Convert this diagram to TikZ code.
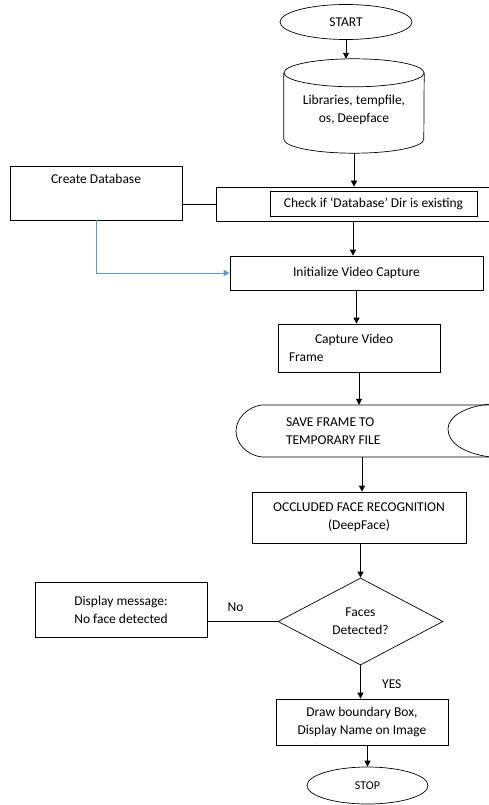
\documentclass[tikz,border=0pt]{standalone}
\usepackage{fontspec}
\setmainfont{Carlito}
\usepackage{tikz}
\usetikzlibrary{shapes.geometric,arrows.meta}
\definecolor{linkblue}{RGB}{91,155,213}

\begin{document}
\begin{tikzpicture}[x=1pt,y=1pt,yscale=-1,xscale=1,
  every node/.style={font=\fontsize{13.5}{18}\selectfont},
  procbox/.style={draw,rectangle,inner sep=0pt,line width=0.7pt},
  termbox/.style={draw,ellipse,inner sep=0pt,line width=0.7pt},
  flow/.style={line width=0.7pt,-{Triangle[length=6pt,width=6pt]}}]
\useasboundingbox (0,0) rectangle (488,805);

%Terminal: start
\node [termbox,minimum width=132,minimum height=35] (start) at (346,22) {START};
%Cylinder: libraries (outline drawn below)
\node [rectangle,inner sep=0pt,minimum width=140,minimum height=94,align=center] (libs) at (354,106) {\\[0pt]Libraries, tempfile,\\os, Deepface};
\draw [line width=0.7pt] ([yshift=14pt]libs.north) ellipse [x radius=70,y radius=14];
\draw [line width=0.7pt] ([yshift=14pt]libs.north west) -- ([yshift=-14pt]libs.south west) arc [start angle=180,end angle=0,x radius=70,y radius=14] -- ([yshift=14pt]libs.north east);
%Boxes: database check
\node [procbox,minimum width=274,minimum height=34] (check) at (353,204) {};
\node [procbox,minimum width=207,minimum height=25] (checkin) at (373.5,203.5) {Check if ‘Database’ Dir is existing};
\node [procbox,minimum width=172,minimum height=54,label={[anchor=north,yshift=-5pt]north:Create Database}] (createdb) at (96,193) {};
%Box: init capture
\node [procbox,minimum width=253,minimum height=34] (init) at (356.5,273) {Initialize Video Capture};
%Box: capture frame
\node [procbox,minimum width=162,minimum height=48,text width=140,align=flush left] (capture) at (359,348) {\hspace*{26pt}Capture Video\\Frame};
%Stored data: save frame
\node [rectangle,inner sep=0pt,minimum width=252,minimum height=52,text width=152,align=flush left] (save) at (362,431) {SAVE FRAME TO\\TEMPORARY FILE};
\draw [line width=0.7pt] (500,405) -- (262,405) .. controls (246,407) and (236,420) .. (236,431) .. controls (236,443) and (246,455) .. (262,457) -- (500,457);
\draw [line width=0.7pt] (490,404) .. controls (462,407) and (448,418) .. (448,429) .. controls (448,442) and (462,453) .. (490,457);
%Box: recognition
\node [procbox,minimum width=214,minimum height=51,align=center] (recog) at (359,517.5) {OCCLUDED FACE RECOGNITION\\(DeepFace)};
%Decision: faces
\node [draw,diamond,inner sep=0pt,aspect=1.9,minimum width=165,minimum height=87,line width=0.7pt,align=center] (faces) at (360.5,621.5) {Faces\\Detected?};
\node [procbox,minimum width=172,minimum height=55,align=center] (nomsg) at (121,609.5) {Display message:\\No face detected};
\node [procbox,minimum width=172,minimum height=46,align=center] (drawbox) at (362,722) {Draw boundary Box,\\Display Name on Image};
%Terminal: stop
\node [termbox,minimum width=121,minimum height=37,font=\fontsize{12}{14}\selectfont] (stop) at (367.5,785.5) {STOP};

%Connectors
\draw [flow] (start.south) -- (start.south |- libs.north);
\draw [flow] (libs.south) -- (libs.south |- check.north);
\draw [line width=0.7pt] (check.west) -- (check.west -| createdb.east);
\draw [flow,color=linkblue] (createdb.south) -- (createdb.south |- init.west) -- (init.west);
\draw [flow] (check.south) -- (check.south |- init.north);
\draw [flow] (init.south) -- (init.south |- capture.north);
\draw [flow] (capture.south) -- (capture.south |- save.north);
\draw [flow] (save.south) -- (save.south |- recog.north);
\draw [flow] (recog.south -| faces.north) -- (faces.north);
\draw [line width=0.7pt] (faces.west) -- (faces.west -| nomsg.east) node [pos=0.6,above=6pt] (nolbl) {No};
\draw [flow] (faces.south) -- (faces.south |- drawbox.north) node [pos=0.55,right=18pt] (yeslbl) {YES};
\draw [flow] (stop.north |- drawbox.south) -- (stop.north);

\end{tikzpicture}
\end{document}
